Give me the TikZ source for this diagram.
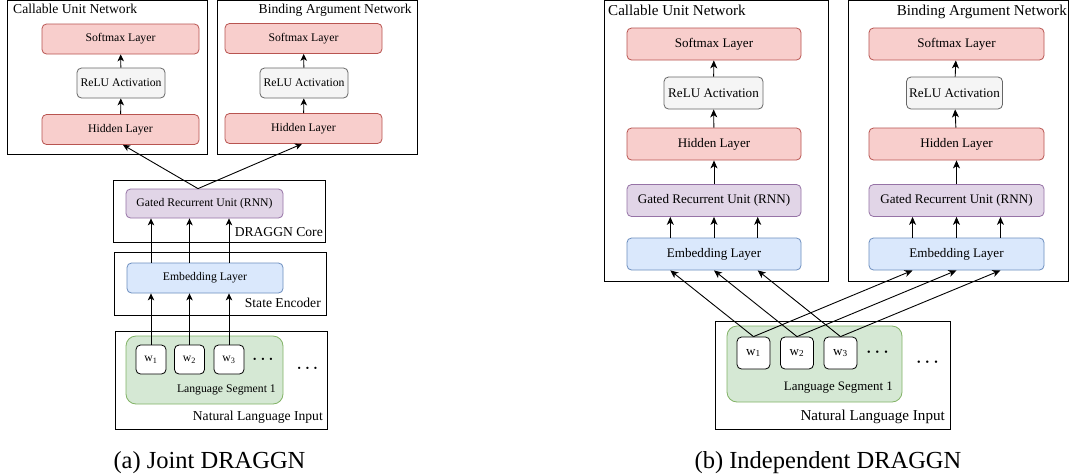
\documentclass[tikz,border=0pt]{standalone}
\usepackage{fontspec}
\setmainfont{Liberation Serif}
\usetikzlibrary{arrows.meta,calc}
\definecolor{redF}{HTML}{F8CECC}\definecolor{redD}{HTML}{B85450}
\definecolor{grayF}{HTML}{F5F5F5}\definecolor{grayD}{HTML}{666666}
\definecolor{purF}{HTML}{E1D5E7}\definecolor{purD}{HTML}{9673A6}
\definecolor{bluF}{HTML}{DAE8FC}\definecolor{bluD}{HTML}{6C8EBF}
\definecolor{grnF}{HTML}{D5E8D4}\definecolor{grnD}{HTML}{82B366}
\newcommand{\fs}[1]{\fontsize{#1}{#1}\selectfont}
\tikzset{
  wh/.style 2 args={minimum width=#1, minimum height=#2},
  cbox/.style={draw=black, line width=0.9pt, fill=white, inner sep=0pt},
  lbox/.style={rounded corners=4.5pt, inner sep=0pt, line width=0.8pt, align=center},
  redbox/.style={lbox, draw=redD, fill=redF},
  graybox/.style={lbox, draw=grayD, fill=grayF},
  purbox/.style={lbox, draw=purD, fill=purF},
  blubox/.style={lbox, draw=bluD, fill=bluF},
  segbox/.style={lbox, rounded corners=10pt, draw=grnD, fill=grnF},
  wordbox/.style={lbox, draw=black, fill=white},
  ttl/.style={inner sep=0pt},
  fa/.style={font=\fs{11.7}},
  fb/.style={font=\fs{13.1}},
  arA/.style={-{Stealth[length=7pt,width=6.5pt,inset=2pt]}, line width=0.9pt},
  arB/.style={-{Stealth[length=8pt,width=7pt,inset=2.3pt]}, line width=0.9pt},
}
\begin{document}
\begin{tikzpicture}[x=1pt,y=-1pt]
\useasboundingbox[fill=white] (0,0) rectangle (1072,475);

% ================= (a) Joint DRAGGN =================
\node[cbox, wh={200}{153.5}] (cunA) at (107,77.25) {};
\node[ttl, anchor=base west, font=\fs{13.6}] (cunAt) at (13,13.5) {Callable Unit Network};
\node[redbox, fa, wh={157}{30}] (smA1) at (120.5,39) {Softmax Layer};
\node[graybox, fa, wh={88}{30}] (reA1) at (121,83) {ReLU Activation};
\node[redbox, fa, wh={157}{30}] (hiA1) at (120.5,129.5) {Hidden Layer};

\node[cbox, wh={200}{153.5}] (banA) at (317,77.25) {};
\node[ttl, anchor=base east, font=\fs{13.6}] (banAt) at (412,13.5) {Binding Argument Network};
\node[redbox, fa, wh={157}{30}] (smA2) at (303.5,38.5) {Softmax Layer};
\node[graybox, fa, wh={88}{30}] (reA2) at (304,83) {ReLU Activation};
\node[redbox, fa, wh={157}{30}] (hiA2) at (303.5,128.5) {Hidden Layer};

\node[cbox, wh={212}{62}] (coreA) at (219,211) {};
\node[purbox, fa, wh={157}{29}] (gruA) at (204.5,203.5) {Gated Recurrent Unit (RNN)};
\node[ttl, anchor=base east, font=\fs{13.6}] (coreAt) at (323,236) {DRAGGN Core};

\node[cbox, wh={212}{63}] (encA) at (220,283.5) {};
\node[blubox, fa, wh={156}{30}] (embA) at (205,278) {Embedding Layer};
\node[ttl, anchor=base east, font=\fs{13.6}] (encAt) at (321,307.5) {State Encoder};

\node[cbox, wh={212}{98}] (nliA) at (221,380) {};
\node[segbox, wh={157}{68}] (segA) at (204.5,370) {};
\node[ttl, anchor=base east, fa] (segAt) at (276,392.5) {Language Segment 1};
\node[ttl, anchor=base east, font=\fs{13.6}] (nliAt) at (323,420.5) {Natural Language Input};
\node[wordbox, fa, wh={30}{29}] (w1A) at (151,359.5) {w\textsubscript{1}};
\node[wordbox, fa, wh={30}{29}] (w2A) at (189.5,359.5) {w\textsubscript{2}};
\node[wordbox, fa, wh={30}{29}] (w3A) at (229,359.5) {w\textsubscript{3}};
\node[ttl, font=\fs{9.5}] (dotsA1) at (263,360) {•\hspace{4.8pt}•\hspace{4.8pt}•};
\node[ttl, font=\fs{9.5}] (dotsA2) at (307.5,369) {•\hspace{4.8pt}•\hspace{4.8pt}•};

\draw[arA] (hiA1) -- (reA1);
\draw[arA] (reA1) -- (smA1);
\draw[arA] (hiA2) -- (reA2);
\draw[arA] (reA2) -- (smA2);
\coordinate (gA) at ([xshift=-6.5pt]gruA.north);
\draw[arA] (gA) -- ([xshift=2.5pt]hiA1.south);
\draw[arA] (gA) -- ([xshift=-1.5pt]hiA2.south);
\foreach \w in {w1A,w2A,w3A}{
  \draw[arA] (embA.north -| \w) -- (gruA.south -| \w);
  \draw[arA] (\w.north) -- (embA.south -| \w);
}

% ================= (b) Independent DRAGGN =================
\node[cbox, wh={224}{280.5}] (cunB) at (716,140.75) {};
\node[ttl, anchor=base west, font=\fs{15.1}] (cunBt) at (608,15) {Callable Unit Network};
\node[redbox, fb, wh={174}{32}] (smB1) at (714,44) {Softmax Layer};
\node[graybox, fb, wh={99}{32}] (reB1) at (713.5,93) {ReLU Activation};
\node[redbox, fb, wh={174}{32}] (hiB1) at (714,144) {Hidden Layer};
\node[purbox, fb, wh={174}{32}] (gruB1) at (714,200.5) {Gated Recurrent Unit (RNN)};
\node[blubox, fb, wh={174}{32}] (embB1) at (714,254) {Embedding Layer};

\node[cbox, wh={220}{280.5}] (banB) at (958,140.75) {};
\node[ttl, anchor=base east, font=\fs{15.1}] (banBt) at (1067,15) {Binding Argument Network};
\node[redbox, fb, wh={175}{32}] (smB2) at (956.5,44) {Softmax Layer};
\node[graybox, fb, wh={96}{32}] (reB2) at (954.5,93) {ReLU Activation};
\node[redbox, fb, wh={175}{32}] (hiB2) at (956.5,144) {Hidden Layer};
\node[purbox, fb, wh={175}{32}] (gruB2) at (956.5,200.5) {Gated Recurrent Unit (RNN)};
\node[blubox, fb, wh={175}{32}] (embB2) at (956.5,254) {Embedding Layer};

\node[cbox, wh={235}{108}] (nliB) at (832.5,375) {};
\node[segbox, wh={175}{76}] (segB) at (814.5,364) {};
\node[ttl, anchor=base east, font=\fs{12.9}] (segBt) at (893,390) {Language Segment 1};
\node[ttl, anchor=base east, font=\fs{15.1}] (nliBt) at (945,420.5) {Natural Language Input};
\node[wordbox, fb, wh={33}{32}] (w1B) at (753.5,353) {w\textsubscript{1}};
\node[wordbox, fb, wh={33}{32}] (w2B) at (797,353) {w\textsubscript{2}};
\node[wordbox, fb, wh={33}{32}] (w3B) at (840.5,353) {w\textsubscript{3}};
\node[ttl, font=\fs{10}] (dotsB1) at (877.5,353) {•\hspace{5.2pt}•\hspace{5.2pt}•};
\node[ttl, font=\fs{10}] (dotsB2) at (927.5,363) {•\hspace{5.2pt}•\hspace{5.2pt}•};

\foreach \a/\b/\c/\d in {reB1/smB1/hiB1/gruB1, reB2/smB2/hiB2/gruB2}{
  \draw[arB] (\a) -- (\b);
  \draw[arB] (\c) -- (\a);
  \draw[arB] (\d) -- (\c);
}
\foreach \e/\g in {embB1/gruB1, embB2/gruB2}{
  \foreach \f in {0.25,0.5,0.75}{
    \draw[arB] ($(\e.north west)!\f!(\e.north east)$) -- ($(\g.south west)!\f!(\g.south east)$);
  }
}
\foreach \w/\f in {w1B/0.25, w2B/0.5, w3B/0.75}{
  \draw[arB] (\w.north) -- ($(embB1.south west)!\f!(embB1.south east)$);
  \draw[arB] (\w.north) -- ($(embB2.south west)!\f!(embB2.south east)$);
}

% captions
\node[ttl, anchor=base, font=\fs{24.5}] (capA) at (209.5,468) {(a) Joint DRAGGN};
\node[ttl, anchor=base, font=\fs{24.5}] (capB) at (828,468) {(b) Independent DRAGGN};
\end{tikzpicture}
\end{document}
